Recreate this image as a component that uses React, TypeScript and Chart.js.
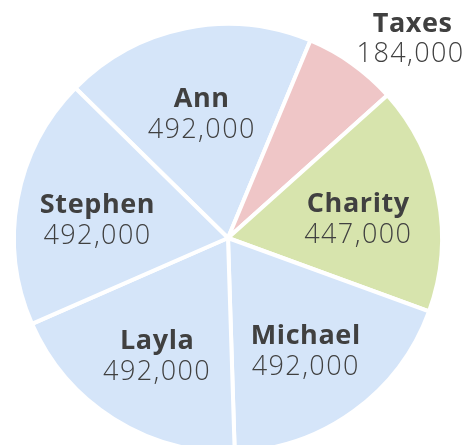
import React, { useEffect, useRef } from "react";
import { Chart, registerables } from "chart.js";

Chart.register(...registerables);

const labels = ["Ann", "Taxes", "Charity", "Michael", "Layla", "Stephen"];
const values = [492000, 184000, 447000, 492000, 492000, 492000];
const colors = ["#d5e5f9", "#efc6c7", "#d7e4ad", "#d5e5f9", "#d5e5f9", "#d5e5f9"];

const TEXT = "#404040";
const NAME_FONT = "700 27px 'Open Sans'";
const VALUE_FONT = "300 27px 'Open Sans'";
const NAME_SPACING = "0.6px";
const VALUE_SPACING = "1.4px";

const fmt = (v: number) => v.toLocaleString("en-US");

const labelPlugin = {
  id: "sliceLabels",
  afterDatasetsDraw(chart: any) {
    const ctx = chart.ctx as CanvasRenderingContext2D;
    const meta = chart.getDatasetMeta(0);
    const data = chart.data.datasets[0].data as number[];
    const total = data.reduce((a, b) => a + b, 0);
    ctx.save();
    ctx.fillStyle = TEXT;
    ctx.textAlign = "center";
    ctx.textBaseline = "middle";
    const drawName = (t: string, x: number, y: number) => {
      ctx.font = NAME_FONT;
      (ctx as any).letterSpacing = NAME_SPACING;
      ctx.fillText(t, x, y);
    };
    const drawValue = (t: string, x: number, y: number) => {
      ctx.font = VALUE_FONT;
      (ctx as any).letterSpacing = VALUE_SPACING;
      ctx.fillText(t, x, y);
    };
    meta.data.forEach((arc: any, i: number) => {
      const p = arc.getProps(["x", "y", "startAngle", "endAngle", "outerRadius"], true);
      const mid = (p.startAngle + p.endAngle) / 2;
      const name = chart.data.labels[i];
      const val = fmt(data[i]);
      const frac = data[i] / total;
      if (frac < 0.1) {
        const ax = p.x + Math.cos(mid) * (p.outerRadius + 8);
        const ay = p.y + Math.sin(mid) * (p.outerRadius + 8);
        ctx.font = VALUE_FONT;
        (ctx as any).letterSpacing = VALUE_SPACING;
        const w = ctx.measureText(val).width;
        const cx = ax + w / 2;
        drawName(name, cx + 2, ay - 33);
        drawValue(val, cx, ay - 3);
      } else {
        const d = p.outerRadius * 0.62;
        const cx = p.x + Math.cos(mid) * d;
        const cy = p.y + Math.sin(mid) * d + 7;
        drawName(name, cx, cy - 16);
        drawValue(val, cx, cy + 15);
      }
    });
    ctx.restore();
  },
};

export default function App() {
  const ref = useRef<HTMLCanvasElement | null>(null);
  useEffect(() => {
    if (!ref.current) return;
    const chart = new Chart(ref.current, {
      type: "pie",
      data: {
        labels,
        datasets: [
          {
            data: values,
            backgroundColor: colors,
            borderColor: "#ffffff",
            borderWidth: 4,
            radius: 214,
            clip: false,
          } as any,
        ],
      },
      options: {
        animation: false,
        responsive: false,
        rotation: -45.5,
        layout: { padding: { left: 0, right: 20, top: 31, bottom: 0 } },
        plugins: {
          legend: { display: false },
          tooltip: { enabled: false },
        },
      },
      plugins: [labelPlugin],
    });
    return () => chart.destroy();
  }, []);
  return (
    <div style={{ position: "fixed", left: 0, top: 0, width: 476, height: 445, background: "#fff" }}>
      <canvas ref={ref} width={476} height={445} style={{ display: "block" }} />
    </div>
  );
}
